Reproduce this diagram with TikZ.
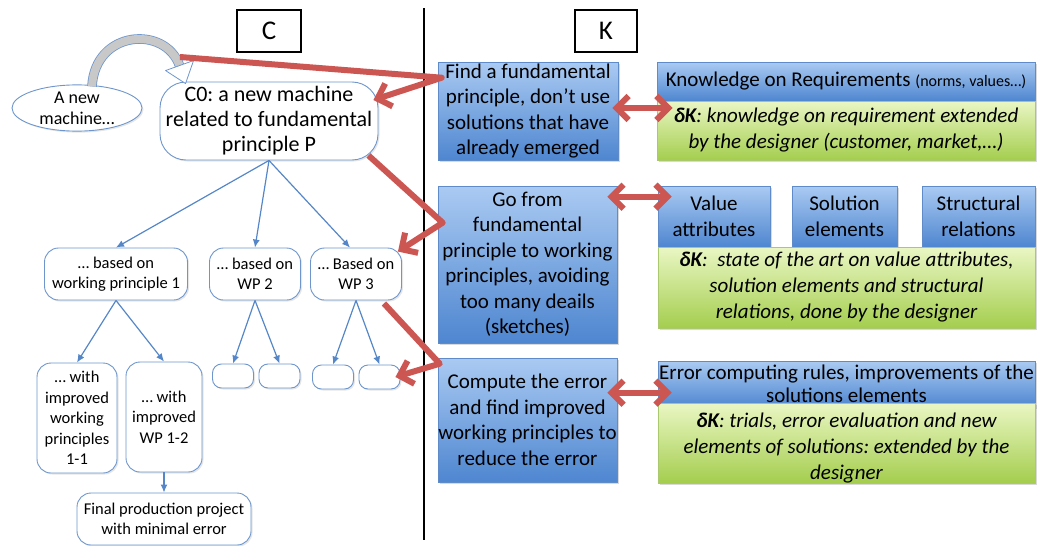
\documentclass[tikz,border=0pt]{standalone}
\usepackage{fontspec}
\setmainfont{Carlito}
\usepackage{tikz}
\usetikzlibrary{arrows.meta,shapes.geometric,shadows}
\frenchspacing
\definecolor{nodeblue}{RGB}{110,150,205}
\definecolor{arrowblue}{RGB}{85,135,200}
\definecolor{boxtop}{RGB}{170,202,242}
\definecolor{boxbottom}{RGB}{78,134,208}
\definecolor{boxedge}{RGB}{95,140,200}
\definecolor{greentop}{RGB}{234,246,196}
\definecolor{greenbottom}{RGB}{164,206,78}
\definecolor{greenedge}{RGB}{170,200,110}
\definecolor{redline}{RGB}{204,86,82}
\definecolor{curvegray}{RGB}{200,200,200}
\tikzset{
    title-box/.style = {draw=black, line width=1.2pt, minimum width=64pt, minimum height=42pt, inner sep=0pt, font=\fontsize{27}{30}\selectfont},
    tree-box/.style = {draw=nodeblue, fill=white, line width=0.9pt, rounded corners=14pt, align=center, inner sep=0pt, font=\fontsize{16.5}{20.5}\selectfont, drop shadow={shadow xshift=1.5pt, shadow yshift=-1.5pt, opacity=0.2}},
    leaf-box/.style = {tree-box, rounded corners=9pt, minimum width=41pt, minimum height=24pt},
    blue-box/.style = {draw=boxedge, line width=0.6pt, top color=boxtop, bottom color=boxbottom, align=center, inner sep=0pt, font=\fontsize{21}{25.5}\selectfont, drop shadow={shadow xshift=2pt, shadow yshift=-2pt, opacity=0.3}},
    green-box/.style = {blue-box, draw=greenedge, top color=greentop, bottom color=greenbottom, font=\itshape\fontsize{21}{26}\selectfont},
    tree-arrow/.style = {draw=arrowblue, line width=1.2pt, -{Latex[length=8pt,width=7pt]}},
    red-arrow/.style = {draw=redline, line width=6pt, line join=round, -{Straight Barb[length=12pt,width=24pt]}},
    red-both/.style = {red-arrow, {Straight Barb[length=12pt,width=24pt]}-{Straight Barb[length=12pt,width=24pt]}},
}
\begin{document}
\begin{tikzpicture}[x=1pt, y=-1pt]
\useasboundingbox (0,0) rectangle (1039,546);

% C and K sides
\node[title-box] (cside) at (269,31) {C};
\node[title-box, minimum width=62pt] (kside) at (606,31) {K};
\coordinate (linetop) at (424,8);
\coordinate (linebottom) at (424,540);
\draw[line width=1.5pt] (linetop) -- (linebottom);

% concept tree
\node[tree-box, ellipse, sharp corners, minimum width=130pt, minimum height=44pt, font=\fontsize{18}{21}\selectfont] (newm) at (77,108) {A new\\machine…};
\node[tree-box, rounded corners=26pt, minimum width=218pt, minimum height=78pt, font=\fontsize{22}{25}\selectfont] (czero) at (269,121) {C0: a new machine\\related to fundamental\\principle P};
\node[tree-box, minimum width=143pt, minimum height=52pt] (wpone) at (116,274) {… based on\\working principle 1};
\node[tree-box, minimum width=91pt, minimum height=52pt] (wptwo) at (255,274) {… based on\\WP 2};
\node[tree-box, minimum width=91pt, minimum height=52pt] (wpthree) at (356,274) {… Based on\\WP 3};
\node[leaf-box] (leafa) at (233,376) {};
\node[leaf-box] (leafb) at (279.5,376) {};
\node[leaf-box] (leafc) at (333,377) {};
\node[leaf-box] (leafd) at (379.5,377) {};
\node[tree-box, minimum width=80pt, minimum height=110pt] (wpoo) at (77,418) {… with\\improved\\working\\principles\\1-1};
\node[tree-box, minimum width=76pt, minimum height=110pt] (wpot) at (164,417) {… with\\improved\\WP 1-2};
\node[tree-box, minimum width=174pt, minimum height=52pt] (final) at (164,519) {Final production project\\with minimal error};

% curved arrow from the first idea to C0
\coordinate (curvestart) at ([shift={(15,2)}]newm.north);
\coordinate (curveend) at ([shift={(20,-16)}]czero.north west);
\draw[draw=nodeblue, line width=0.8pt, double=curvegray, double distance=8pt] (curvestart) .. controls (95,30) and (165,25) .. (curveend);
\draw[draw=nodeblue, line width=0.8pt, fill=white, line join=round] ([shift={(14,-5)}]curveend) -- ([shift={(6,18)}]curveend) -- ([shift={(-14,5)}]curveend) -- cycle;

\draw[tree-arrow] (czero.south) -- (wpone.north);
\draw[tree-arrow] (czero.south) -- (wptwo.north);
\draw[tree-arrow] (czero.south) -- ([xshift=-6pt]wpthree.north);
\draw[tree-arrow] (wpone.south) -- (wpoo.north);
\draw[tree-arrow] (wpone.south) -- (wpot.north);
\draw[tree-arrow] (wptwo.south) -- (leafa.north);
\draw[tree-arrow] (wptwo.south) -- (leafb.north);
\draw[tree-arrow] (wpthree.south) -- (leafc.north);
\draw[tree-arrow] (wpthree.south) -- (leafd.north);
\draw[tree-arrow] (wpot.south) -- (final.north);

% knowledge side
\node[blue-box, minimum width=180pt, minimum height=98pt] (kone) at (528,111) {Find a fundamental\\principle, don’t use\\solutions that have\\already emerged};
\node[blue-box, minimum width=179pt, minimum height=157pt] (ktwo) at (527.5,264.5) {Go from\\fundamental\\principle to working\\principles, avoiding\\too many deails\\(sketches)};
\node[blue-box, minimum width=179pt, minimum height=124pt] (kthree) at (527.5,420) {Compute the error\\and find improved\\working principles to\\reduce the error};

\node[blue-box, minimum width=378pt, minimum height=39pt] (req) at (846,81.5) {Knowledge on Requirements {\fontsize{16}{19}\selectfont (norms, values…)}};
\node[green-box, minimum width=378pt, minimum height=59pt] (reqk) at (846,130.5) {\textbf{δK}: knowledge on requirement extended\\by the designer (customer, market,…)};
\node[blue-box, minimum width=112pt, minimum height=61pt] (vattr) at (714,216.5) {Value\\attributes};
\node[blue-box, minimum width=105pt, minimum height=61pt] (selem) at (844.5,216.5) {Solution\\elements};
\node[blue-box, minimum width=113pt, minimum height=61pt] (srel) at (978.5,216.5) {Structural\\relations};
\node[green-box, minimum width=377pt, minimum height=81pt] (artk) at (846.5,287.5) {\textbf{δK}:\ \ state of the art on value attributes,\\solution elements and structural\\relations, done by the designer};
\node[blue-box, minimum width=377pt, minimum height=46pt, font=\fontsize{21}{22.5}\selectfont] (err) at (846.5,384) {Error computing rules, improvements of the\\solutions elements};
\node[green-box, minimum width=377pt, minimum height=70pt] (errk) at (846.5,443) {\rule{0pt}{24pt}\textbf{δK}: trials, error evaluation and new\\elements of solutions: extended by the\\designer};

% links between C and K
\coordinate (redstart) at (180,57);
\draw[red-arrow] (redstart) -- ([shift={(4,16)}]kone.north west) -- ([shift={(-5,-21)}]czero.east);
\draw[red-arrow] ([shift={(-10,-5)}]czero.south east) -- ([shift={(5,37)}]ktwo.north west) -- ([shift={(-4,4)}]wpthree.north east);
\draw[red-arrow] ([shift={(-18,3)}]wpthree.south east) -- ([shift={(2,6)}]kthree.north west) -- ([xshift=-5pt]leafd.east);

\draw[red-both] ([shift={(-6,-3)}]kone.east) -- ([shift={(16,-22.5)}]reqk.west);
\draw[red-both] ([shift={(-10,11)}]ktwo.north east) -- ([shift={(14,11)}]vattr.north west);
\draw[red-both] ([shift={(-10,35)}]kthree.north east) -- ([shift={(14,32)}]err.north west);
\end{tikzpicture}
\end{document}
